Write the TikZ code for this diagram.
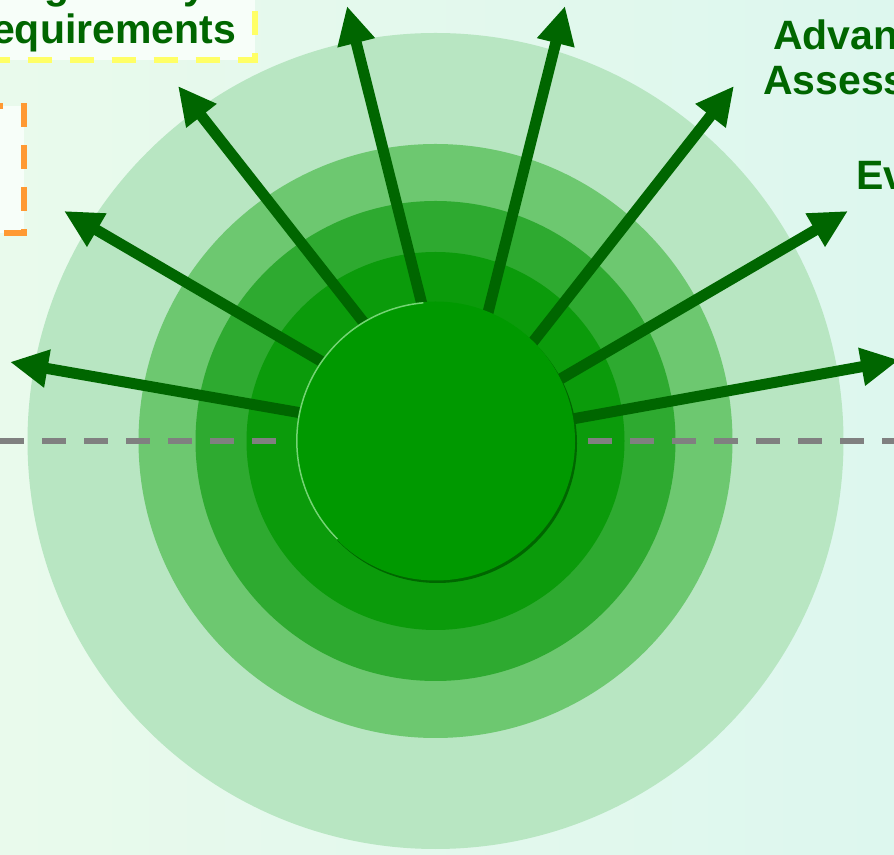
\documentclass[tikz,border=0pt]{standalone}
\usepackage{fontspec}
\setmainfont{Liberation Sans}
\usetikzlibrary{arrows.meta}
\definecolor{bgleft}{HTML}{E9FAEC}
\definecolor{bgright}{HTML}{DDF7EE}
\definecolor{ringa}{HTML}{B8E6C2}
\definecolor{ringb}{HTML}{6DC870}
\definecolor{ringc}{HTML}{2EAA30}
\definecolor{ringd}{HTML}{0B9B0B}
\definecolor{core}{HTML}{009900}
\definecolor{corelight}{HTML}{74D474}
\definecolor{darkgreen}{HTML}{006600}
\definecolor{boxfill}{HTML}{F7FEF9}
\definecolor{dashyellow}{HTML}{FFFF66}
\definecolor{dashorange}{HTML}{FF9933}

\begin{document}
\begin{tikzpicture}[x=1pt,y=1pt,
    ray/.style={draw=darkgreen,line width=11pt,-{Triangle[length=38pt,width=36pt]}},
    notebox/.style={line width=6pt,dash pattern=on 24pt off 18pt,fill=boxfill},
    lbl/.style={text=darkgreen,font=\bfseries\fontsize{41}{45}\selectfont},
    axisline/.style={draw=gray,line width=6pt,dash pattern=on 24pt off 18pt}]
  \useasboundingbox (0,0) rectangle (894,854);
  \shade[left color=bgleft,right color=bgright] (0,0) rectangle (894,854);
  \coordinate (c) at (435.5,413);
  \coordinate (o) at (456,414);
  \fill[ringa] (c) circle (408pt);
  \fill[ringb] (c) circle (297pt);
  \fill[ringc] (c) circle (240pt);
  \fill[ringd] (c) circle (189pt);
  \coordinate (axl) at (0,413);
  \coordinate (axle) at (276,413);
  \coordinate (axr) at (588,413);
  \coordinate (axre) at (900,413);
  \draw[axisline] (axl) -- (axle);
  \draw[axisline] (axr) -- (axre);
  \foreach \x/\y [count=\i] in {10/492,64/643,178/768,347/848,565/848,734/768,848/643,899/494}
    \coordinate (tip\i) at (\x,\y);
  \foreach \i in {1,...,8}
    \draw[ray] (o) -- (tip\i);
  \fill[darkgreen] (437.5,410.5) circle (139.5pt);
  \fill[core] (c) circle (139.5pt);
  \draw[corelight,line width=1.5pt] (c) ++(95:138.7pt) arc[start angle=95,end angle=225,radius=138.7pt];
  \node[notebox,draw=dashorange,minimum width=230pt,minimum height=127pt,anchor=east] (note) at (27,684.5) {};
  \node[notebox,lbl,draw=dashyellow,align=center,inner xsep=19pt,inner ysep=8pt,anchor=south east] (reg) at (258,791) {Regulatory\\Requirements};
  \node[lbl,anchor=base west,inner sep=0pt] (adv) at (773,804) {Advanced};
  \node[lbl,anchor=base west,inner sep=0pt] (ass) at (763,759) {Assessment};
  \node[lbl,anchor=base west,inner sep=0pt] (eva) at (856,664) {Evaluation};
\end{tikzpicture}
\end{document}
